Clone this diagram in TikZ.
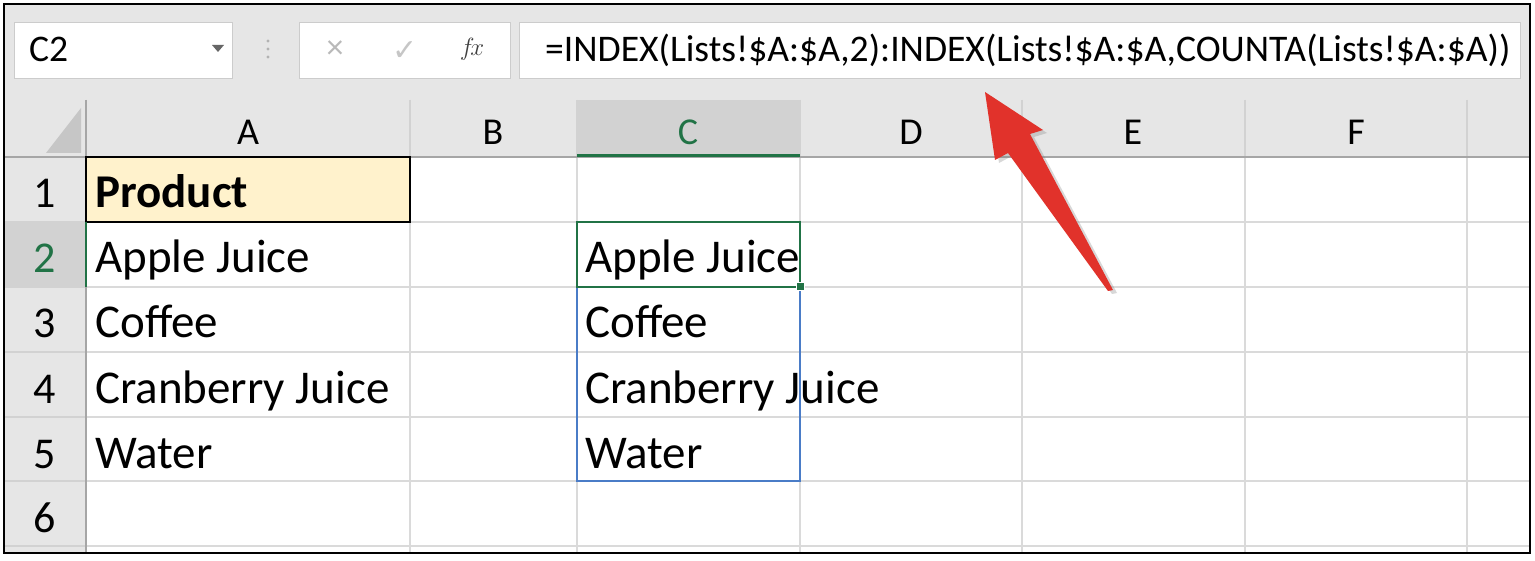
\documentclass[tikz,border=0pt]{standalone}
\usepackage{fontspec}
\setmainfont{Carlito}
\newfontfamily\symfont{DejaVu Sans}
\usetikzlibrary{positioning,shadows}
\definecolor{hdrgray}{HTML}{E6E6E6}
\definecolor{selgray}{HTML}{D2D2D2}
\definecolor{gridgray}{HTML}{DADADA}
\definecolor{xlgreen}{HTML}{217346}
\definecolor{spillblue}{HTML}{4A7CC7}
\definecolor{prodyellow}{HTML}{FFF2CC}
\definecolor{arrowred}{HTML}{E1322B}
\begin{document}
\begin{tikzpicture}[x=1pt,y=-1pt,
	box/.style={draw=gray!40,fill=white,line width=1.2pt,inner sep=0pt,minimum height=56pt,anchor=north west},
	hdr/.style={font=\fontsize{38}{40}\selectfont,anchor=base,inner sep=0pt},
	rownum/.style={font=\fontsize{44}{46}\selectfont,anchor=base,inner sep=0pt},
	cell/.style={font=\fontsize{47}{50}\selectfont,anchor=base west,inner sep=0pt},
	fbar/.style={font=\fontsize{37.6}{40}\selectfont,anchor=base west,inner sep=0pt},
	grid/.style={draw=gridgray,line width=1.2pt},
	hline/.style={draw=gray!70,line width=2pt},
	callout/.style={fill=arrowred,drop shadow={shadow xshift=4pt,shadow yshift=-3pt,opacity=.3}}
	]
\useasboundingbox (0,0) rectangle (1535,561);
\fill[white] (0,0) rectangle (1535,561);
\fill[hdrgray] (4,4) rectangle (1530,157);
\fill[hdrgray] (4,157) rectangle (86,553);
\fill[selgray] (577,100) rectangle (800,157);
\fill[selgray] (4,222) rectangle (86,287);
\fill[prodyellow] (86,157) rectangle (410,222);

% grid
\foreach \x in {410,577,800,1022,1245,1467} \draw[grid] (\x,157) -- (\x,553);
\foreach \y in {222,287,352,417,481,546} \draw[grid] (86,\y) -- (1530,\y);
\foreach \y in {222,287,352,417,481,546} \draw[gray!35,line width=1.5pt] (4,\y) -- (86,\y);
\foreach \x in {410,577,800,1022,1245,1467} \draw[gray!35,line width=1.5pt] (\x,100) -- (\x,157);
\draw[hline] (4,157) -- (1530,157);
\draw[hline] (86,100) -- (86,553);
\fill[gray!45] (46,153) -- (81,153) -- (81,108) -- cycle;

% formula bar
\node[box,minimum width=218pt] (namebox) at (14,22) {};
\node[fbar] (cellref) at (29,62) {C2};
\fill[gray!80!black] (212,45) -- (224,45) -- (218,52) -- cycle;
\foreach \y in {41,49,57} \fill[gray!60] (268,\y) circle (1.6);
\node[box,minimum width=211pt] (btnbox) at (299,22) {};
\node[font=\fontsize{34}{36}\selectfont,text=gray!55] (cancel) at (335,50) {×};
\node[font=\symfont\fontsize{30}{32}\selectfont,text=gray!45] (enter) at (405,51) {✓};
\node[font=\fontsize{32}{34}\selectfont,text=gray!50!black] (fx) at (472,49) {$f\!x$};
\node[box,minimum width=1001pt] (fbox) at (519,22) {};
\node[fbar] (formula) at (545,62) {=INDEX(Lists!\$A:\$A,2):INDEX(Lists!\$A:\$A,COUNTA(Lists!\$A:\$A))};

% headers
\node[hdr] (hA) at (248,145) {A};
\node[hdr] (hB) at (493,145) {B};
\node[hdr,text=xlgreen] (hC) at (688,145) {C};
\node[hdr] (hD) at (911,145) {D};
\node[hdr] (hE) at (1133,145) {E};
\node[hdr] (hF) at (1356,145) {F};
\node[rownum] (r1) at (45,208) {1};
\node[rownum,text=xlgreen] (r2) at (45,273) {2};
\node[rownum] (r3) at (45,338) {3};
\node[rownum] (r4) at (45,403) {4};
\node[rownum] (r5) at (45,468) {5};
\node[rownum] (r6) at (45,532) {6};

% cells
\node[cell,font=\fontsize{47}{50}\selectfont\bfseries] (a1) at (95,208) {Product};
\node[cell] (a2) at (95,273) {Apple Juice};
\node[cell] (a3) at (95,338) {Coffee};
\node[cell] (a4) at (95,403) {Cranberry Juice};
\node[cell] (a5) at (95,468) {Water};
\begin{scope}
\clip (577,222) rectangle (800,287);
\node[cell] (c2) at (585,273) {Apple Juice};
\end{scope}
\node[cell] (c3) at (585,338) {Coffee};
\node[cell] (c4) at (585,403) {Cranberry Juice};
\node[cell] (c5) at (585,468) {Water};

\draw[black,line width=1.5pt] (86,157) rectangle (410,222);
\draw[spillblue,line width=1.5pt] (577,222) rectangle (800,481);
\draw[xlgreen,line width=2.8pt] (577,222) rectangle (800,287);
\fill[xlgreen,draw=white,line width=1pt] (796,283) rectangle (804,291);
\draw[xlgreen,line width=3pt] (577,156) -- (800,156);
\draw[xlgreen,line width=2.5pt] (86,222) -- (86,287);

% red arrow
\fill[callout] (985,92) -- (1043,130) -- (1030,134) -- (1113,290) -- (1108,291) -- (1008,153) -- (995,160) -- cycle;

\draw[black,line width=2.5pt] (4,4) rectangle (1530,553);
\end{tikzpicture}
\end{document}
